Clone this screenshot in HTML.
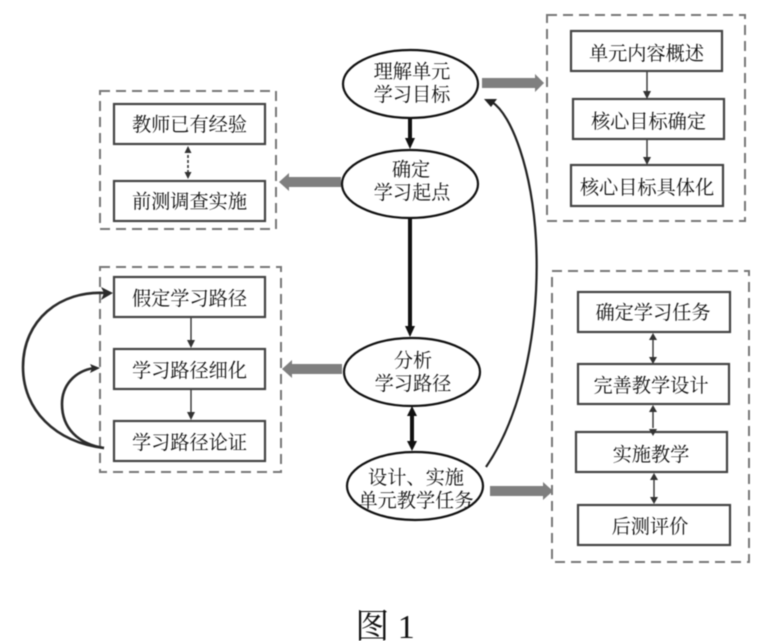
<!DOCTYPE html>
<html><head><meta charset="utf-8"><style>
html,body{margin:0;padding:0;background:#fff;width:760px;height:641px;overflow:hidden}
svg{display:block;filter:blur(.4px)}
text{font-family:"Liberation Serif","Noto Serif CJK SC",serif;font-size:19.2px;fill:#111;text-anchor:middle}
.d{fill:none;stroke:#777;stroke-width:2;stroke-dasharray:10 6}
.b{fill:#fff;stroke:#444;stroke-width:2.2}
.e{fill:#fff;stroke:#111;stroke-width:2.2}
.g{fill:#7f7f7f}
.t{fill:none;stroke:#333;stroke-width:1.4}
.k{fill:none;stroke:#111;stroke-width:4}
.c{fill:none;stroke:#2a2a2a;stroke-width:2.6}
</style></head><body>
<svg width="760" height="641" viewBox="0 0 760 641" xmlns="http://www.w3.org/2000/svg">
<!-- dashed containers -->
<rect class="d" x="100" y="91" width="176" height="138"/>
<rect class="d" x="547" y="15" width="198" height="206"/>
<rect class="d" x="100" y="267" width="181" height="205"/>
<rect class="d" x="552" y="271" width="197" height="291"/>

<!-- curves -->
<path class="c" d="M104 448C55 442 23 410 23 367C23 320 60 290 106 293"/>
<polygon points="113,293 101,287 104,293 101,300" fill="#2a2a2a"/>
<path class="c" d="M104 448C78 444 62 428 62 404C62 385 75 371 94 368"/>
<polygon points="100,368 90,364 92,368 90,373" fill="#2a2a2a"/>
<path d="M486 467C525 410 540 320 536 240C532 170 512 115 492 102" fill="none" stroke="#222" stroke-width="2.2"/>
<polygon points="484,99 497,99 491,107" fill="#222"/>

<!-- boxes -->
<rect class="b" x="114" y="104" width="151" height="40"/>
<rect class="b" x="114" y="181" width="151" height="40"/>
<rect class="b" x="114" y="277" width="151" height="40"/>
<rect class="b" x="114" y="349" width="151" height="40"/>
<rect class="b" x="114" y="421" width="151" height="40"/>
<rect class="b" x="571" y="31" width="151" height="40"/>
<rect class="b" x="573" y="99" width="151" height="40"/>
<rect class="b" x="571" y="165" width="152" height="41"/>
<rect class="b" x="578" y="292" width="152" height="40"/>
<rect class="b" x="578" y="364" width="151" height="40"/>
<rect class="b" x="576" y="432" width="151" height="40"/>
<rect class="b" x="578" y="505" width="152" height="40"/>

<!-- thin arrows -->
<line x1="188" y1="150" x2="188" y2="176" stroke="#333" stroke-width="1.6" stroke-dasharray="3 2"/>
<polygon points="188,146 184.5,153 191.5,153" fill="#333"/>
<polygon points="188,179 184.5,172 191.5,172" fill="#333"/>
<line class="t" x1="191" y1="318" x2="191" y2="343"/><polygon points="191,348 187,340 195,340" fill="#333"/>
<line class="t" x1="191" y1="390" x2="191" y2="415"/><polygon points="191,420 187,412 195,412" fill="#333"/>
<line class="t" x1="647" y1="72" x2="647" y2="94"/><polygon points="647,99 643,91 651,91" fill="#333"/>
<line class="t" x1="647" y1="140" x2="647" y2="160"/><polygon points="647,165 643,157 651,157" fill="#333"/>
<line class="t" x1="653" y1="338" x2="653" y2="360"/><polygon points="653,333 649,340 657,340" fill="#333"/><polygon points="653,364 649,357 657,357" fill="#333"/>
<line class="t" x1="653" y1="410" x2="653" y2="428"/><polygon points="653,405 649,412 657,412" fill="#333"/><polygon points="653,436 649,429 657,429" fill="#333"/>
<line class="t" x1="654" y1="478" x2="654" y2="500"/><polygon points="654,473 650,480 658,480" fill="#333"/><polygon points="654,504 650,497 658,497" fill="#333"/>

<!-- grey arrows -->
<polygon class="g" points="482,78 535,78 535,74 544,83 535,92 535,88 482,88"/>
<polygon class="g" points="341,177 289,177 289,173 279,182 289,191 289,187 341,187"/>
<polygon class="g" points="342,364 292,364 292,360 282,369 292,378 292,374 342,374"/>
<polygon class="g" points="490,486 543,486 543,482 553,491 543,500 543,496 490,496"/>

<!-- black connectors -->
<line class="k" x1="410" y1="118" x2="410" y2="140"/><polygon points="410,149 405,138 415,138" fill="#111"/>
<line class="k" x1="410" y1="218" x2="410" y2="328"/><polygon points="410,337 405,326 415,326" fill="#111"/>
<line class="k" x1="412" y1="414" x2="412" y2="444"/><polygon points="412,406 407,416 417,416" fill="#111"/><polygon points="412,451 407,441 417,441" fill="#111"/>

<!-- ellipses -->
<ellipse class="e" cx="410.5" cy="84" rx="67.5" ry="34"/>
<ellipse class="e" cx="410" cy="184" rx="68" ry="34"/>
<ellipse class="e" cx="412" cy="372" rx="68" ry="34"/>
<ellipse class="e" cx="415" cy="486" rx="68" ry="34"/>

<!-- text -->
<text x="189.5" y="131">教师已有经验</text>
<text x="189.5" y="208">前测调查实施</text>
<text x="189.5" y="305">假定学习路径</text>
<text x="189.5" y="377">学习路径细化</text>
<text x="189.5" y="449">学习路径论证</text>
<text x="646.5" y="60">单元内容概述</text>
<text x="648.5" y="128">核心目标确定</text>
<text x="647" y="194">核心目标具体化</text>
<text x="653" y="319">确定学习任务</text>
<text x="651" y="392">完善教学设计</text>
<text x="651" y="461">实施教学</text>
<text x="650" y="533">后测评价</text>
<text x="412" y="78">理解单元</text>
<text x="412" y="101">学习目标</text>
<text x="411" y="176">确定</text>
<text x="412" y="199">学习起点</text>
<text x="413" y="367">分析</text>
<text x="413" y="390">学习路径</text>
<text x="416" y="484">设计、实施</text>
<text x="416" y="507">单元教学任务</text>
<text x="385" y="638" style="font-size:34px">图 1</text>
</svg>
</body></html>
